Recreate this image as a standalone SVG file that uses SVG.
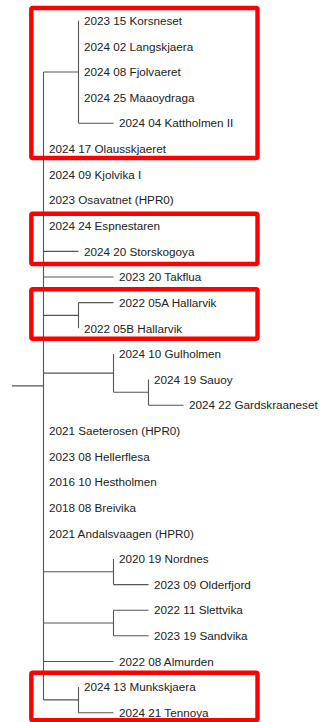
<svg xmlns="http://www.w3.org/2000/svg" width="320" height="722" viewBox="0 0 320 722">
<style>
.t{font-family:"Liberation Sans",Arial,sans-serif;font-size:11.7px;fill:#222}
.e{fill:none;stroke:#555;stroke-width:1.1}
.r{fill:none;stroke:#ff0000;stroke-width:4.4;rx:1.5}
</style>
<rect width="320" height="722" fill="#fff"/>
<g id="connectors">
<path class="e" d="M12 385.9H43.5M43.5 72V699.9"/>
<path class="e" d="M43.5 72H78.5M78.5 20.7V123.2M78.5 123.2H113.5"/>
<path class="e" d="M43.5 251.4H78.5"/>
<path class="e" d="M43.5 277H113.5"/>
<path class="e" d="M43.5 315.4H78.5M78.5 302.6V328.3M78.5 302.6H113.5"/>
<path class="e" d="M43.5 373.1H113.5M113.5 353.9V392.3M113.5 392.3H148.5M148.5 379.5V405.2M148.5 405.2H183.5"/>
<path class="e" d="M43.5 571.7H113.5M113.5 558.9V584.6M113.5 584.6H148.5"/>
<path class="e" d="M43.5 623H113.5M113.5 610.2V635.8M113.5 610.2H148.5M113.5 635.8H148.5"/>
<path class="e" d="M43.5 661.5H113.5"/>
<path class="e" d="M43.5 699.9H78.5M78.5 687.1V712.7M78.5 712.7H113.5"/>
</g>
<g id="n0"><text class="t" x="84" y="24.9">2023 15 Korsneset</text></g>
<g id="n1"><text class="t" x="84" y="50.5">2024 02 Langskjaera</text></g>
<g id="n2"><text class="t" x="84" y="76.2">2024 08 Fjolvaeret</text></g>
<g id="n3"><text class="t" x="84" y="101.8">2024 25 Maaoydraga</text></g>
<g id="n4"><text class="t" x="119" y="127.4">2024 04 Kattholmen II</text></g>
<g id="n5"><text class="t" x="49" y="153.1">2024 17 Olausskjaeret</text></g>
<g id="n6"><text class="t" x="49" y="178.7">2024 09 Kjolvika I</text></g>
<g id="n7"><text class="t" x="49" y="204.3">2023 Osavatnet (HPR0)</text></g>
<g id="n8"><text class="t" x="49" y="229.9">2024 24 Espnestaren</text></g>
<g id="n9"><text class="t" x="84" y="255.6">2024 20 Storskogoya</text></g>
<g id="n10"><text class="t" x="119" y="281.2">2023 20 Takflua</text></g>
<g id="n11"><text class="t" x="119" y="306.8">2022 05A Hallarvik</text></g>
<g id="n12"><text class="t" x="84" y="332.5">2022 05B Hallarvik</text></g>
<g id="n13"><text class="t" x="119" y="358.1">2024 10 Gulholmen</text></g>
<g id="n14"><text class="t" x="154" y="383.7">2024 19 Sauoy</text></g>
<g id="n15"><text class="t" x="189" y="409.4">2024 22 Gardskraaneset</text></g>
<g id="n16"><text class="t" x="49" y="435">2021 Saeterosen (HPR0)</text></g>
<g id="n17"><text class="t" x="49" y="460.6">2023 08 Hellerflesa</text></g>
<g id="n18"><text class="t" x="49" y="486.2">2016 10 Hestholmen</text></g>
<g id="n19"><text class="t" x="49" y="511.9">2018 08 Breivika</text></g>
<g id="n20"><text class="t" x="49" y="537.5">2021 Andalsvaagen (HPR0)</text></g>
<g id="n21"><text class="t" x="119" y="563.1">2020 19 Nordnes</text></g>
<g id="n22"><text class="t" x="154" y="588.8">2023 09 Olderfjord</text></g>
<g id="n23"><text class="t" x="154" y="614.4">2022 11 Slettvika</text></g>
<g id="n24"><text class="t" x="154" y="640">2023 19 Sandvika</text></g>
<g id="n25"><text class="t" x="119" y="665.7">2022 08 Almurden</text></g>
<g id="n26"><text class="t" x="84" y="691.3">2024 13 Munkskjaera</text></g>
<g id="n27"><text class="t" x="119" y="716.9">2024 21 Tennoya</text></g>
<g id="highlights">
<rect class="r" x="31.3" y="8" width="226.2" height="150" rx="1.5"/>
<rect class="r" x="31.3" y="213.7" width="226.2" height="50.3" rx="1.5"/>
<rect class="r" x="31.3" y="289.3" width="226.2" height="49.4" rx="1.5"/>
<rect class="r" x="31.3" y="672.7" width="226.2" height="47.5" rx="1.5"/>
</g>
</svg>
